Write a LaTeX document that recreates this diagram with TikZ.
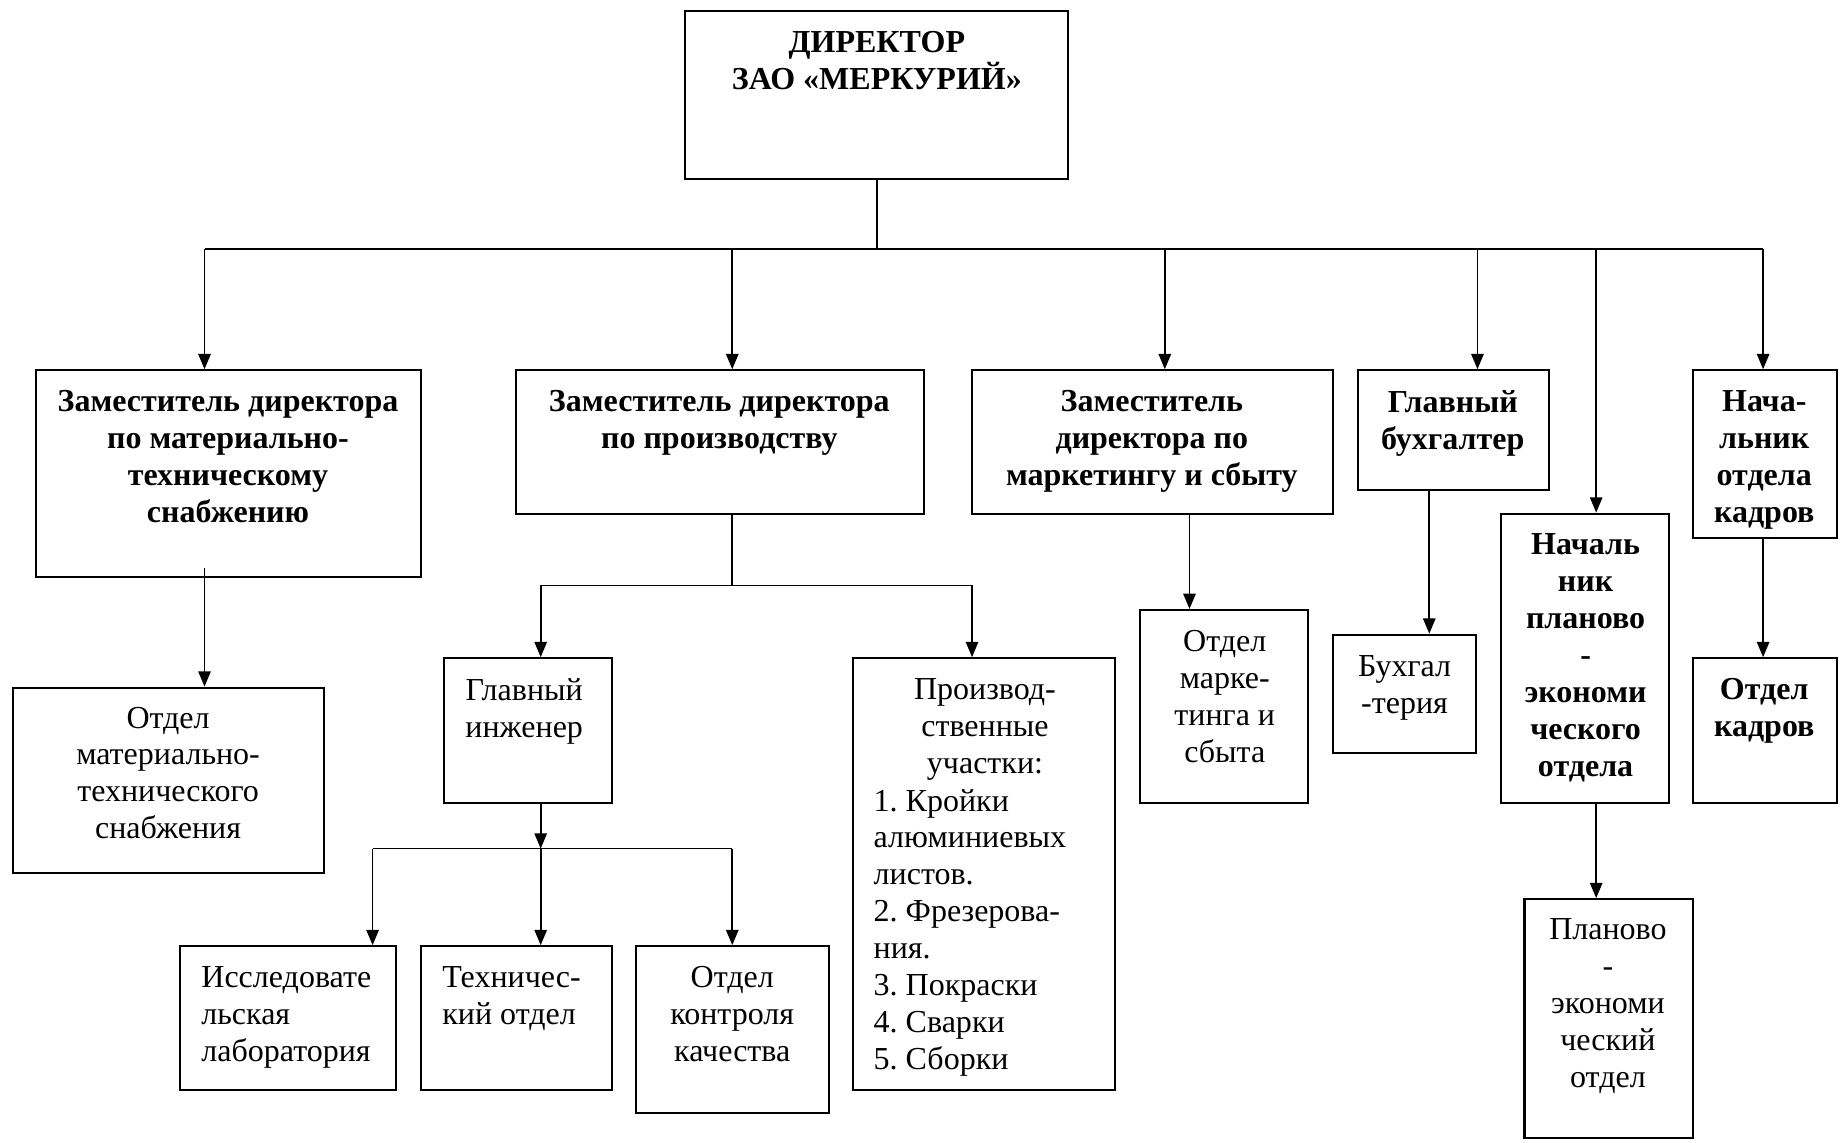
\documentclass[tikz,border=0pt]{standalone}
\usepackage{fontspec}
\setmainfont{Liberation Serif}
\usetikzlibrary{arrows.meta,fit,calc}

\begin{document}
\frenchspacing
\begin{tikzpicture}[x=0.02cm,y=-0.02cm,
  box/.style={draw,line width=1pt,inner sep=0pt},
  txt/.style={inner sep=0pt,anchor=north,font=\fontsize{15.5}{17.9}\selectfont,
    execute at begin node=\strut},
  bold/.style={txt,font=\fontsize{15.5}{17.9}\selectfont\bfseries},
  link/.style={line width=0.8pt},
  arr/.style={link,-{Triangle[length=7.4pt,width=6pt]}}]
\useasboundingbox (0,0) rectangle (1568,972);

% boxes
\node[box,fit={(583,9) (909,152)}] (dir) {};
\node[box,fit={(31,315) (358,491)}] (b1) {};
\node[box,fit={(439,315) (786,437)}] (b2) {};
\node[box,fit={(827,315) (1134,437)}] (b3) {};
\node[box,fit={(1155,315) (1318,417)}] (b4) {};
\node[box,fit={(1440,315) (1563,458)}] (b5) {};
\node[box,fit={(1277,437) (1420,683)}] (b6) {};
\node[box,fit={(11,585) (276,743)}] (d1) {};
\node[box,fit={(378,560) (521,683)}] (gi) {};
\node[box,fit={(726,560) (949,927)}] (pu) {};
\node[box,fit={(153,805) (337,927)}] (il) {};
\node[box,fit={(358,805) (521,927)}] (to) {};
\node[box,fit={(541,805) (705,947)}] (okk) {};
\node[box,fit={(970,519) (1113,683)}] (dm) {};
\node[box,fit={(1134,540) (1256,641)}] (bu) {};
\node[box,fit={(1440,560) (1563,683)}] (ok) {};
\node[box,fit={(1297,765) (1440,968)}] (pe) {};

% texts
\node[bold,align=center] (tdir) at (746,26) {ДИРЕКТОР\\ЗАО «МЕРКУРИЙ»};
\node[bold,align=center] (tb1) at (194,332) {Заместитель директора\\по материально-\\техническому\\снабжению};
\node[bold,align=center] (tb2) at (612,332) {Заместитель директора\\по производству};
\node[bold,align=center] (tb3) at (980,332) {Заместитель\\директора по\\маркетингу и сбыту};
\node[bold,align=center] (tb4) at (1236,332) {Главный\\бухгалтер};
\node[bold,align=center] (tb5) at (1501,332) {Нача-\\льник\\отдела\\кадров};
\node[bold,align=center] (tb6) at (1349,454) {Началь\\ник\\планово\\-\\экономи\\ческого\\отдела};
\node[txt,align=center] (td1) at (143,601) {Отдел\\материально-\\технического\\снабжения};
\node[txt,align=center] (tgi) at (446,577) {Главный\\инженер};
\node[txt,align=center] (tpu) at (838,577) {Производ-\\ственные\\участки:};
\node[txt,align=left,anchor=north west] (tpl) at (743,671) {1. Кройки\\алюминиевых\\листов.\\2. Фрезерова-\\ния.\\3. Покраски\\4. Сварки\\5. Сборки};
\node[txt,align=left,anchor=north west] (til) at (171,822) {Исследовате\\льская\\лаборатория};
\node[txt,align=left,anchor=north west] (tto) at (376,822) {Техничес-\\кий отдел};
\node[txt,align=center] (tokk) at (623,822) {Отдел\\контроля\\качества};
\node[txt,align=center] (tdm) at (1042,536) {Отдел\\марке-\\тинга и\\сбыта};
\node[txt,align=center] (tbu) at (1195,557) {Бухгал\\-терия};
\node[bold,align=center] (tok) at (1501,577) {Отдел\\кадров};
\node[txt,align=center] (tpe) at (1368,781) {Планово\\-\\экономи\\ческий\\отдел};

% top-level distribution line
\coordinate (hub) at (746,212);
\coordinate (c1) at (174,212);
\coordinate (c2) at (623,212);
\coordinate (c3) at (991,212);
\coordinate (c4) at (1257,212);
\coordinate (c5) at (1358,212);
\coordinate (c6) at (1500,212);
\draw[link] (dir.south) -- (hub);
\draw[link] (c1) -- (c6);
\draw[arr] (c1) -- (c1 |- b1.north);
\draw[arr] (c2) -- (c2 |- b2.north);
\draw[arr] (c3) -- (c3 |- b3.north);
\draw[arr] (c4) -- (c4 |- b4.north);
\draw[arr] (c5) -- (c5 |- b6.north);
\draw[arr] (c6) -- (c6 |- b5.north);

% supply department
\coordinate (s1) at (174,483);
\draw[arr] (s1) -- (s1 |- d1.north);

% production branch
\coordinate (p0) at (623,498);
\coordinate (pl) at (460,498);
\coordinate (pr) at (827,498);
\draw[link] (p0 |- b2.south) -- (p0);
\draw[link] (pl) -- (pr);
\draw[arr] (pl) -- (pl |- gi.north);
\draw[arr] (pr) -- (pr |- pu.north);

% chief engineer branch
\coordinate (g0) at (460,722);
\coordinate (gl) at (317,722);
\coordinate (gr) at (623,722);
\draw[arr] (g0 |- gi.south) -- (g0);
\draw[link] (gl) -- (gr);
\draw[arr] (gl) -- (gl |- il.north);
\draw[arr] (g0) -- (g0 |- to.north);
\draw[arr] (gr) -- (gr |- okk.north);

% remaining departments
\coordinate (m0) at (1012,450);
\draw[arr] (m0 |- b3.south) -- (m0 |- dm.north);
\coordinate (a0) at (1216,450);
\draw[arr] (a0 |- b4.south) -- (a0 |- bu.north);
\coordinate (k0) at (1500,500);
\draw[arr] (k0 |- b5.south) -- (k0 |- ok.north);
\coordinate (e0) at (1358,700);
\draw[arr] (e0 |- b6.south) -- (e0 |- pe.north);
\end{tikzpicture}
\end{document}
